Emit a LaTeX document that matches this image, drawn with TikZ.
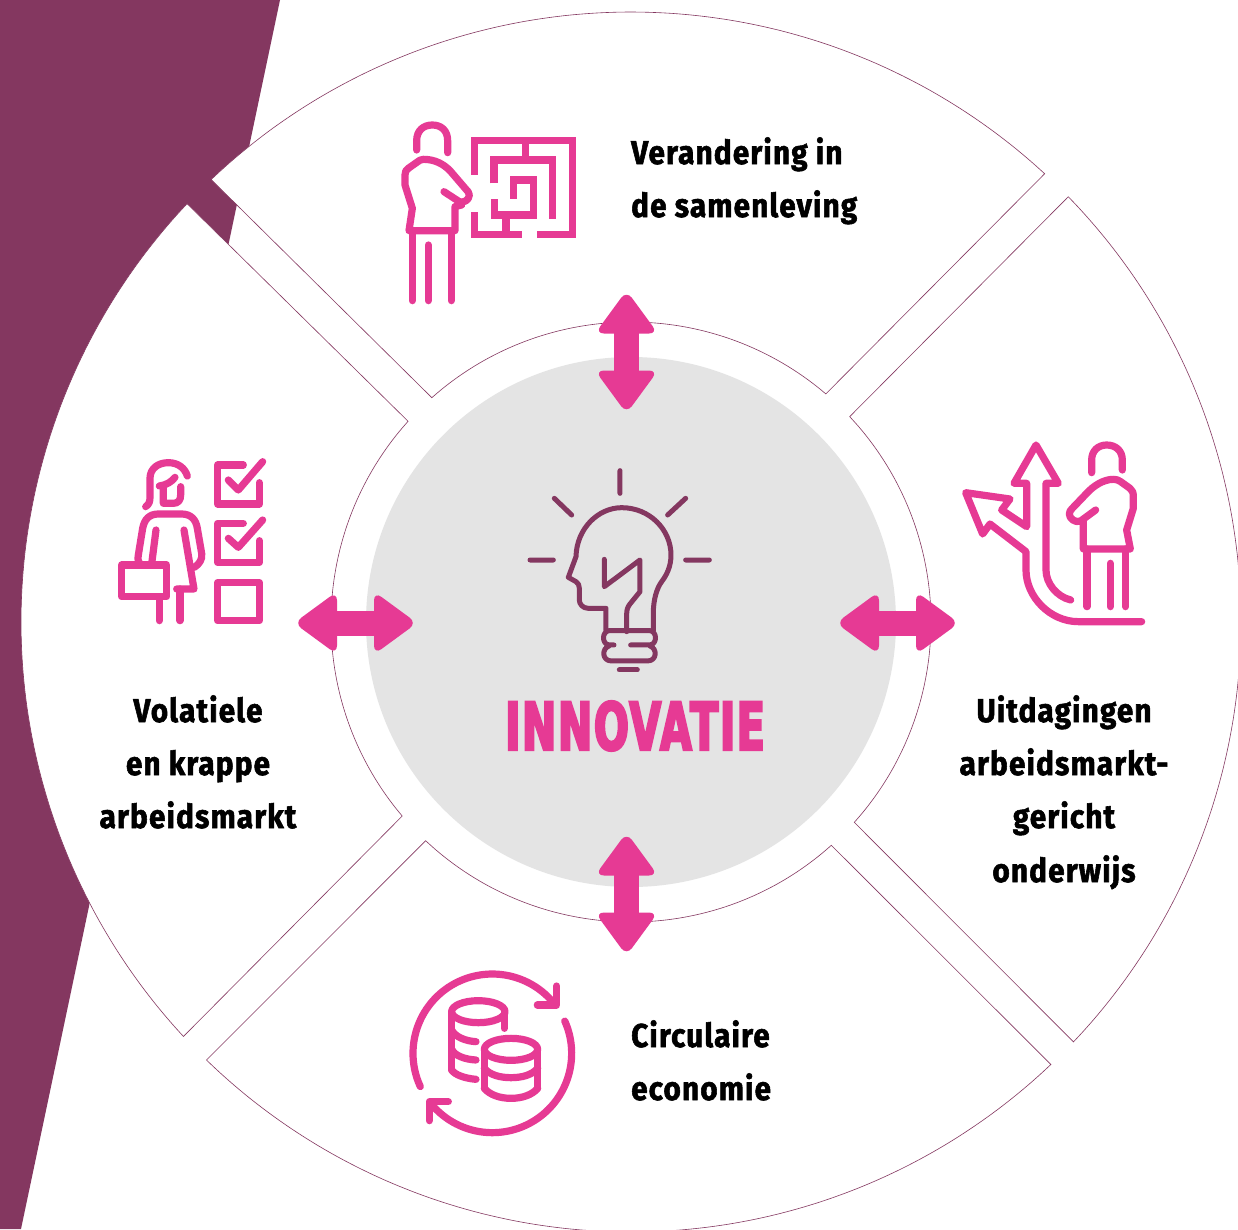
\documentclass[tikz,border=0pt]{standalone}
\usepackage{fontspec}
\setmainfont{Fira Sans}
\newfontfamily\lbl[FakeStretch=0.9,LetterSpace=3.5,FakeBold=1.7]{Fira Sans Bold}
\newfontfamily\heavy[FakeStretch=0.62,FakeBold=3.5,LetterSpace=2.6]{DejaVu Sans Bold}
\definecolor{plum}{HTML}{843760}
\definecolor{rosepink}{HTML}{E63A94}
\definecolor{lightgrey}{HTML}{E4E4E4}
\newcommand{\sectorshape}[4]{%
  \filldraw[plum,line width=0.6pt,fill=white]
    plot[smooth,samples=70,domain=#1:#2] ({631+610*cos(\x)},{622+610*sin(\x)})
    -- plot[smooth,samples=40,domain=#4:#3] ({631+300*cos(\x)},{622+300*sin(\x)}) -- cycle;}
\newcommand{\dblarrow}[3]{%
  \begin{scope}[shift={(#1,#2)},rotate=#3]
  \fill[rosepink] (-12.5,-22) rectangle (12.5,22);
  \fill[rosepink,rounded corners=9pt] (0,-61.5) -- (31.5,-18.5) -- (-31.5,-18.5) -- cycle;
  \fill[rosepink,rounded corners=9pt] (0,61.5) -- (31.5,18.5) -- (-31.5,18.5) -- cycle;
  \end{scope}}
\tikzset{
  lab/.style={font=\lbl\fontsize{33}{33}\selectfont,text=black,inner sep=0pt},
  icon/.style={rosepink,line width=7.2pt,line cap=round,line join=round},
  maze/.style={rosepink,line width=7.5pt,line cap=butt,line join=miter},
  bulb/.style={plum,line width=5pt,line cap=round,line join=round},
}
\begin{document}
\begin{tikzpicture}[x=1pt,y=-1pt]
\useasboundingbox (0,0) rectangle (1238,1229);
\fill[white] (0,0) rectangle (1238,1229);
\fill[plum] (0,0) -- (280,0) -- (21,1229) -- (0,1229) -- cycle;
% ring sectors
\sectorshape{226.5}{312.7}{228.4}{310.5}
\sectorshape{-44.2}{43.5}{-43.2}{41.9}
\sectorshape{46.5}{134.1}{48.1}{133.2}
\sectorshape{137.2}{223.3}{139.7}{222}
% centre
\fill[lightgrey] (631,622) circle[radius=265];
\dblarrow{626.5}{352}{0}
\dblarrow{626.5}{894}{0}
\dblarrow{355.5}{623}{90}
\dblarrow{897.5}{623}{90}
% labels
\node[lab,anchor=base west] (t1) at (631,164) {Verandering in};
\node[lab,anchor=base west] (t2) at (631,217) {de samenleving};
\node[lab,anchor=base] (l1) at (198,722) {Volatiele};
\node[lab,anchor=base] (l2) at (198,775) {en krappe};
\node[lab,anchor=base] (l3) at (198,828) {arbeidsmarkt};
\node[lab,anchor=base] (r1) at (1064,722) {Uitdagingen};
\node[lab,anchor=base] (r2) at (1064,775) {arbeidsmarkt-};
\node[lab,anchor=base] (r3) at (1064,828) {gericht};
\node[lab,anchor=base] (r4) at (1064,882) {onderwijs};
\node[lab,anchor=base west] (b1) at (631,1047) {Circulaire};
\node[lab,anchor=base west] (b2) at (631,1100) {economie};
\node[anchor=base,inner sep=0pt,text=rosepink,font=\heavy\fontsize{66}{66}\selectfont] (inno) at (635,750) {INNOVATIE};
% icon: man and maze
\begin{scope}[shift={(380,100)},x=0.3333pt,y=-0.3333pt]
\draw[icon] (110,150) -- (110,122) .. controls (110,92) and (130,75) .. (157,75) .. controls (184,75) and (203,92) .. (203,122) -- (203,158);
\draw[icon] (192,275) -- (238,305) .. controls (250,310) and (268,300) .. (268,285) .. controls (268,278) and (262,272) .. (258,268) -- (210,212) .. controls (190,192) and (165,178) .. (130,178) .. controls (122,178) and (118,182) .. (112,186) -- (85,205) .. controls (78,210) and (75,215) .. (75,225) -- (75,255) -- (97,325) -- (87,392) -- (225,392) -- (225,320) -- (245,315);
\draw[icon] (97,392) -- (97,602) (214,392) -- (214,602) (145,435) -- (145,602);
\draw[maze] (283,225) -- (283,122) -- (577,122) -- (577,404) -- (472,404);
\draw[maze] (425,404) -- (283,404) -- (283,335);
\draw[maze] (437,122) -- (437,180);
\draw[maze] (342,250) -- (342,180) -- (518,180) -- (518,357);
\draw[maze] (344,298) -- (344,345) -- (460,345) -- (460,240) -- (400,240) -- (400,298);
\draw[maze] (378,345) -- (378,404);
\end{scope}
% icon: woman and check list
\begin{scope}[shift={(100,440)},x=0.3333pt,y=-0.3333pt]
\draw[icon] (137,200) .. controls (148,192) and (150,185) .. (150,170) -- (150,115) .. controls (150,85) and (175,68) .. (205,68) .. controls (235,68) and (255,85) .. (262,108);
\draw[icon] (178,138) .. controls (200,135) and (215,125) .. (225,112);
\draw[icon] (190,140) -- (190,190) -- (220,190) .. controls (235,190) and (242,180) .. (242,165) -- (242,140);
\draw[icon] (125,375) .. controls (115,368) and (112,360) .. (115,345) -- (128,265) .. controls (133,238) and (148,222) .. (175,222) -- (245,222) .. controls (272,222) and (288,238) .. (292,265) -- (305,340) .. controls (308,358) and (298,372) .. (283,382);
\draw[icon] (168,270) -- (155,372);
\draw[icon] (252,270) -- (282,447) -- (230,447);
\draw[icon] (65,375) rectangle (200,470);
\draw[icon] (178,470) -- (178,542) (240,447) -- (240,542);
\draw[icon] (430,75) -- (353,75) -- (353,192) -- (478,192) -- (478,128);
\draw[icon] (385,120) -- (415,150) -- (488,65);
\draw[icon] (430,250) -- (353,250) -- (353,367) -- (478,367) -- (478,302);
\draw[icon] (385,295) -- (415,322) -- (488,240);
\draw[icon] (353,428) rectangle (478,542);
\end{scope}
% icon: man and diverging arrows
\begin{scope}[shift={(950,430)},x=0.3333pt,y=-0.3333pt]
\draw[icon] (425,128) -- (425,90) .. controls (425,62) and (445,45) .. (470,45) .. controls (497,45) and (517,62) .. (517,90) -- (517,120);
\draw[icon] (437,240) -- (392,273) .. controls (375,280) and (358,265) .. (358,252) .. controls (358,245) and (362,240) .. (366,236) -- (410,190) .. controls (430,168) and (460,148) .. (490,148) .. controls (500,148) and (505,150) .. (512,155) -- (540,175) .. controls (548,182) and (550,188) .. (550,200) -- (550,235) -- (530,300) -- (541,357) -- (400,357) -- (400,275);
\draw[icon] (411,357) -- (411,530) (527,357) -- (527,530) (481,400) -- (481,530);
\draw[icon] (575,575) -- (385,575) .. controls (300,575) and (228,500) .. (228,420) -- (228,365) -- (120,282) -- (98,312) -- (47,188) -- (180,207) -- (155,240) -- (230,290) -- (230,160) -- (192,160) -- (258,45) -- (325,160) -- (288,160) -- (288,420) .. controls (288,460) and (320,500) .. (362,510);
\end{scope}
% icon: coins in a cycle
\begin{scope}[shift={(400,960)},x=0.3333pt,y=-0.3333pt]
\draw[icon] plot[smooth,samples=50,domain=155.2:320.3] ({277+238*cos(\x)},{280+238*sin(\x)});
\draw[icon] plot[smooth,samples=50,domain=-24:141] ({277+238*cos(\x)},{280+238*sin(\x)});
\draw[icon] (470,78) -- (470,135) -- (412,135);
\draw[icon] (88,482) -- (88,425) -- (145,425);
\draw[icon] (235,155) ellipse[x radius=80,y radius=33];
\draw[icon] (155,155) -- (155,330) (313,155) -- (313,205);
\draw[icon] (155,210) .. controls (165,230) and (195,243) .. (228,245);
\draw[icon] (155,268) .. controls (165,288) and (195,298) .. (228,300);
\draw[icon] (155,330) .. controls (165,345) and (195,355) .. (228,358);
\draw[icon] (333,268) ellipse[x radius=80,y radius=33];
\draw[icon] (253,268) -- (253,385) (413,268) -- (413,385);
\draw[icon] (253,325) .. controls (270,345) and (300,353) .. (333,353) .. controls (366,353) and (396,345) .. (413,325);
\draw[icon] (253,385) .. controls (270,405) and (300,415) .. (333,415) .. controls (366,415) and (396,405) .. (413,385);
\end{scope}
% icon: bulb with head
\begin{scope}[shift={(510,460)},x=0.3333pt,y=-0.3333pt]
\draw[bulb] (330,32) -- (330,100) (133,115) -- (185,165) (527,115) -- (473,165) (60,300) -- (130,300) (527,300) -- (598,300);
\draw[bulb] (288,512) -- (288,445) -- (235,445) .. controls (218,445) and (208,432) .. (208,420) -- (208,385) .. controls (208,375) and (205,370) .. (198,365) -- (175,352) -- (198,290) .. controls (200,205) and (265,143) .. (335,143) .. controls (420,143) and (483,210) .. (483,285) .. controls (483,320) and (470,345) .. (455,365) .. controls (440,385) and (430,420) .. (430,460) -- (430,512);
\draw[bulb] (283,298) -- (283,380) -- (390,300) -- (390,395) -- (360,432) .. controls (352,442) and (350,450) .. (350,465) -- (350,515);
\draw[bulb] (312,555) -- (297,555) .. controls (275,552) and (275,515) .. (297,512) -- (420,512) .. controls (442,515) and (442,552) .. (420,555) -- (362,555);
\draw[bulb] (297,558) .. controls (275,565) and (275,603) .. (305,603) -- (412,603) .. controls (442,603) and (442,565) .. (420,558);
\draw[bulb] (328,630) -- (382,630);
\end{scope}
\end{tikzpicture}
\end{document}
